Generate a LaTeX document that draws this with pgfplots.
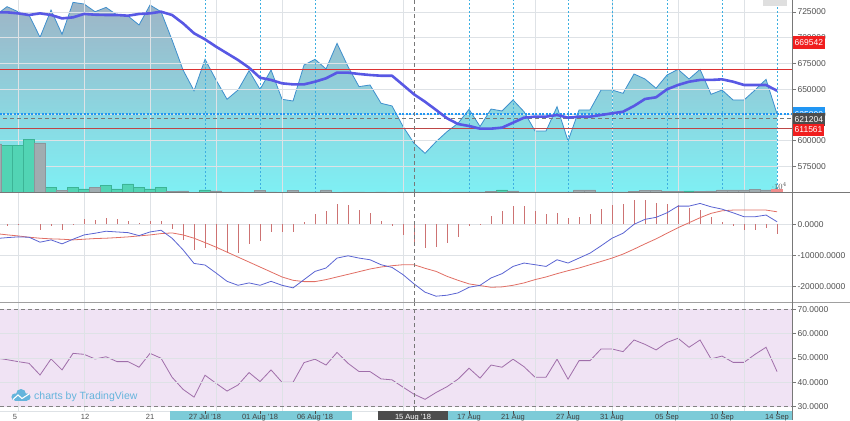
\documentclass[border=0pt]{standalone}
\usepackage{fontspec}
\setmainfont{Liberation Sans}
\usepackage{pgfplots}
\usepackage{pgfplotstable}
\pgfplotsset{compat=1.18}

\definecolor{areatop}{RGB}{158,180,198}
\definecolor{areabot}{RGB}{126,240,244}
\definecolor{priceln}{RGB}{62,143,205}
\definecolor{mac}{RGB}{88,88,228}
\definecolor{gridc}{RGB}{222,226,230}
\definecolor{tickc}{RGB}{80,80,80}
\definecolor{axisc}{RGB}{120,120,120}
\definecolor{bluedot}{RGB}{60,175,225}
\definecolor{lastc}{RGB}{33,150,243}
\definecolor{redl}{RGB}{220,50,50}
\definecolor{redd}{RGB}{190,70,70}
\definecolor{crossc}{RGB}{120,120,120}
\definecolor{volup}{RGB}{82,212,180}
\definecolor{volupd}{RGB}{60,180,150}
\definecolor{voldn}{RGB}{160,172,176}
\definecolor{voldnd}{RGB}{140,150,155}
\definecolor{volred}{RGB}{240,140,140}
\definecolor{macdc}{RGB}{90,100,210}
\definecolor{sigc}{RGB}{225,110,100}
\definecolor{histc}{RGB}{205,115,115}
\definecolor{bandc}{RGB}{240,227,244}
\definecolor{rsic}{RGB}{160,110,170}
\definecolor{dashc}{RGB}{130,130,130}
\definecolor{boxred}{RGB}{240,30,30}
\definecolor{boxdark}{RGB}{77,77,77}
\definecolor{stripc}{RGB}{125,203,216}
\definecolor{tvc}{RGB}{100,180,220}

% close and 20-period average
\pgfplotstableread{
i close ma
-1 722100 724700
0 730200 724700
1 725300 723700
2 722100 722100
3 700400 723700
4 726900 722100
5 703300 718800
6 734400 719800
7 732800 723100
8 725300 722400
9 729500 722100
10 722100 722100
11 721100 721400
12 712400 723100
13 731800 723700
14 725300 725300
15 697800 722100
16 668600 714000
17 648400 704300
18 679000 698400
19 658900 691300
20 640100 684800
21 649100 678300
22 667900 670800
23 649700 661100
24 668600 658900
25 640100 655600
26 638400 654600
27 673400 654600
28 679000 657200
29 669600 660500
30 694500 666000
31 671800 666000
32 652400 664700
33 654000 663700
34 636200 663000
35 633600 663000
36 613600 654000
37 597300 644900
38 587500 637700
39 598800 629700
40 608600 621600
41 616700 616000
42 630300 614100
43 613600 611500
44 630600 611500
45 628700 612500
46 639400 617300
47 628000 622200
48 609200 623200
49 609200 623200
50 632900 624800
51 599500 622200
52 629700 623200
53 629700 623200
54 649100 624800
55 649100 626400
56 645900 628000
57 664700 633600
58 659800 640400
59 650800 642000
60 663700 649800
61 669200 654000
62 659800 657200
63 669200 658900
64 644900 658900
65 649100 659500
66 639400 657200
67 639400 654000
68 649100 654000
69 659500 654000
70 625800 648400
}\pricedata

\pgfplotstableread{
i vol
0 473
1 473
2 533
4 56
6 56
7 40
9 73
10 40
11 90
12 56
13 40
14 56
18 30
45 30
62 20
}\volup

\pgfplotstableread{
i vol
-1 490
3 500
5 23
8 56
15 13
16 20
17 5
19 20
20 10
21 10
22 8
23 25
24 10
25 8
26 25
27 10
28 10
29 30
30 8
31 10
32 12
33 8
34 10
35 8
36 12
37 10
38 8
39 10
40 8
41 10
42 10
43 12
44 15
46 20
47 10
48 12
49 10
50 10
51 12
52 30
53 30
54 12
55 10
56 10
57 15
58 25
59 25
60 15
61 15
63 15
64 20
65 30
66 30
67 30
68 35
69 30
}\voldn

\pgfplotstableread{
i vol
70 35
}\volred

\pgfplotstableread{
i macd signal hist
-1 -4600 -3000 0
0 -4300 -3400 -700
1 -4060 -3750 -200
2 -4170 -4170 0
3 -5770 -4490 -1800
4 -5030 -4700 -700
5 -6310 -4810 -1800
6 -4810 -5030 200
7 -3430 -4810 1600
8 -2880 -4600 1400
9 -2240 -4490 2000
10 -2470 -4290 1700
11 -2690 -4060 1200
12 -3650 -3750 300
13 -2470 -3430 1100
14 -1920 -3000 1100
15 -4490 -2780 -1600
16 -8240 -3430 -5000
17 -12630 -4490 -8200
18 -13140 -5900 -7500
19 -15700 -7370 -8400
20 -18400 -8970 -9300
21 -19680 -10580 -9100
22 -18910 -12180 -6300
23 -19680 -13780 -5300
24 -18400 -15380 -2400
25 -19680 -16990 -2400
26 -20510 -18070 -2400
27 -17850 -18490 600
28 -15190 -18490 3300
29 -14100 -17850 4300
30 -10900 -16990 6400
31 -10160 -16150 6200
32 -10900 -15290 4600
33 -11440 -14420 3500
34 -13040 -13780 1100
35 -13910 -13360 -700
36 -16250 -13040 -3400
37 -19230 -13040 -6100
38 -21900 -14200 -7700
39 -23200 -15190 -7400
40 -22880 -16790 -6100
41 -22130 -18070 -4000
42 -20320 -19230 -400
43 -19680 -19770 -100
44 -17310 -20320 2700
45 -15930 -20190 4400
46 -13590 -19680 6000
47 -12500 -18910 6000
48 -13040 -17850 4400
49 -13590 -16990 3200
50 -11440 -15930 3700
51 -12500 -14970 1900
52 -10900 -14100 2500
53 -9300 -13040 3200
54 -6950 -11990 4900
55 -4490 -10900 6200
56 -2880 -9620 6400
57 0 -8010 7800
58 1600 -6310 7800
59 2240 -4710 7000
60 3720 -2880 6700
61 5870 -1090 6200
62 5870 510 5100
63 6730 2120 4600
64 5640 3530 2500
65 4900 4360 850
66 3720 4590 -700
67 2440 4590 -2000
68 2440 4590 -2000
69 2990 4590 -1300
70 830 4040 -3200
}\macddata

\pgfplotstableread{
i rsi
-1 50.0
0 49.3
1 48.5
2 47.8
3 43.0
4 49.6
5 45.1
6 51.9
7 51.5
8 49.6
9 50.5
10 48.5
11 48.5
12 46.2
13 51.9
14 49.9
15 42.1
16 37.1
17 33.9
18 42.9
19 39.6
20 36.4
21 38.9
22 44.0
23 40.3
24 45.1
25 40.0
26 40.0
27 48.1
28 49.5
29 47.1
30 52.3
31 47.8
32 44.4
33 44.4
34 41.4
35 41.0
36 38.0
37 35.1
38 33.0
39 35.8
40 38.2
41 41.3
42 45.8
43 41.7
44 47.1
45 46.2
46 49.5
47 46.4
48 42.1
49 42.1
50 49.5
51 41.3
52 48.9
53 48.9
54 53.7
55 53.7
56 52.6
57 57.4
58 55.6
59 53.3
60 56.4
61 58.1
62 54.4
63 57.4
64 49.6
65 50.8
66 48.2
67 48.2
68 51.5
69 54.4
70 44.4
}\rsidata

\pgfplotsset{
  panel/.style={
    scale only axis, width=792pt, anchor=south west,
    xmin=-0.64, xmax=71.36,
    axis line style={draw=none},
    xtick={1,7,13,19,25,36,48,55,61,67}, xticklabels={},
    x tick style={draw=none},
    xmajorgrids, ymajorgrids,
    major grid style={draw=gridc, line width=0.6pt},
    ytick pos=right, yticklabel pos=right,
    tick align=outside, major tick length=4pt,
    y tick style={draw=axisc, line width=0.6pt},
    yticklabel style={font=\fontsize{8.5}{10}\selectfont, text=tickc, xshift=-2pt},
  },
  overlay/.style={
    scale only axis, width=792pt, anchor=south west,
    xmin=-0.64, xmax=71.36, hide axis,
  },
}

\begin{document}
\begin{tikzpicture}
\path[use as bounding box] (0,0) rectangle (850pt,420pt);
\clip (0,0) rectangle (850pt,420pt);

% ---- price panel
\begin{axis}[panel, at={(0pt,227pt)}, height=193pt,
  ymin=548900, ymax=736700,
  ytick={575000,600000,625000,650000,675000,700000,725000},
  yticklabels={575000,600000,625000,650000,675000,700000,725000},
  extra x ticks={18,23,28,42,46,51,55,60,65,70}, extra x tick labels={},
  extra x tick style={major tick length=0pt, xmajorgrids=true,
    major grid style={draw=bluedot, dash pattern=on 2pt off 2pt, line width=0.9pt}},
  axis on top]
\addplot[draw=none, top color=areatop, bottom color=areabot]
  table[x=i, y=close] {\pricedata} -- (axis cs:70,548900) -- (axis cs:-1,548900) -- cycle;
\addplot[priceln, line width=0.8pt] table[x=i, y=close] {\pricedata};
\end{axis}

% ---- volume
\begin{axis}[overlay, at={(0pt,227pt)}, height=193pt, ymin=0, ymax=1930,
  ybar, bar width=1, bar shift=0pt]
\addplot[fill=volup, draw=volupd, line width=0.5pt] table[x=i, y=vol] {\volup};
\addplot[fill=voldn, draw=voldnd, line width=0.5pt] table[x=i, y=vol] {\voldn};
\addplot[fill=volred, draw=volred, line width=0.5pt] table[x=i, y=vol] {\volred};
\end{axis}

% ---- price overlay lines
\begin{axis}[overlay, at={(0pt,227pt)}, height=193pt, ymin=548900, ymax=736700]
\addplot[redl, line width=0.7pt] coordinates {(-1,669542) (72,669542)};
\addplot[redd, line width=0.7pt] coordinates {(-1,611561) (72,611561)};
\addplot[crossc, dash pattern=on 4pt off 3pt, line width=0.7pt] coordinates {(-1,621204) (72,621204)};
\addplot[lastc, dash pattern=on 2pt off 1.5pt, line width=1.3pt] coordinates {(-1,625800) (72,625800)};
\addplot[crossc, dash pattern=on 4pt off 3pt, line width=0.7pt] coordinates {(37,548900) (37,736700)};
\addplot[mac, line width=2.6pt, line join=round] table[x=i, y=ma] {\pricedata};
\end{axis}

% ---- MACD panel
\begin{axis}[panel, at={(0pt,118pt)}, height=109pt,
  ymin=-25070, ymax=10100,
  ytick={-20000,-10000,0},
  yticklabels={-20000.0000,-10000.0000,0.0000}]
\addplot[ycomb, histc, line width=0.9pt] table[x=i, y=hist] {\macddata};
\addplot[sigc, line width=0.8pt] table[x=i, y=signal] {\macddata};
\addplot[macdc, line width=0.8pt] table[x=i, y=macd] {\macddata};
\addplot[crossc, dash pattern=on 4pt off 3pt, line width=0.7pt] coordinates {(37,-25070) (37,10100)};
\end{axis}

% ---- RSI panel
\begin{axis}[panel, at={(0pt,9pt)}, height=108pt,
  ymin=28.2, ymax=72.6,
  ytick={40,50,60}, yticklabels={40.0000,50.0000,60.0000},
  extra y ticks={30,70}, extra y tick labels={30.0000,70.0000},
  extra y tick style={ymajorgrids=true,
    major grid style={draw=dashc, dash pattern=on 4pt off 3pt, line width=0.7pt}},
  axis on top]
\addplot[fill=bandc, draw=none] coordinates {(-1,30) (72,30) (72,70) (-1,70)} -- cycle;
\addplot[rsic, line width=0.8pt] table[x=i, y=rsi] {\rsidata};
\addplot[crossc, dash pattern=on 4pt off 3pt, line width=0.7pt] coordinates {(37,28.2) (37,72.6)};
\end{axis}

% ---- frame, separators
\draw[axisc, line width=1pt] (0,227pt) -- (850pt,227pt);
\draw[axisc!70, line width=1pt] (0,117.5pt) -- (850pt,117.5pt);
\draw[gridc, line width=0.6pt] (0,9pt) -- (792pt,9pt);
\draw[axisc, line width=0.8pt] (792pt,0) -- (792pt,420pt);

% ---- price scale labels
\fill[gray!25] (763pt,414pt) rectangle (787pt,420pt);
\node[fill=boxred, text=white, anchor=west, inner xsep=1.5pt, minimum height=11.5pt,
  font=\fontsize{8.5}{10}\selectfont] at (793pt,377.5pt) {669542};
\node[fill=lastc, text=white, anchor=west, inner xsep=1.5pt, minimum height=14pt,
  font=\fontsize{8.5}{10}\selectfont] at (793pt,305.5pt) {625800};
\node[fill=boxdark, text=white, anchor=west, inner xsep=1.5pt, minimum height=9.5pt,
  font=\fontsize{8.5}{10}\selectfont] at (793pt,300.5pt) {621204};
\node[fill=boxred, text=white, anchor=west, inner xsep=1.5pt, minimum height=10pt,
  font=\fontsize{8.5}{10}\selectfont] at (793pt,290pt) {611561};

% ---- watermark
\fill[tvc] (21pt,26pt) circle (5pt);
\fill[tvc] (15pt,23pt) circle (3.6pt);
\fill[tvc] (27pt,23pt) circle (3.6pt);
\fill[tvc] (15pt,19.4pt) rectangle (27pt,23pt);
\draw[white, line width=1.1pt] (13pt,20.5pt) -- (18pt,25pt) -- (22pt,21.5pt) -- (29pt,26pt);
\node[anchor=west, text=tvc, inner sep=0pt, font=\fontsize{10.5}{12}\selectfont] at (34pt,23.5pt) {charts by TradingView};

% ---- time strip
\fill[stripc] (170pt,0) rectangle (352pt,9pt);
\fill[boxdark] (378pt,0) rectangle (448pt,9pt);
\fill[stripc] (448pt,0) rectangle (792pt,9pt);
\foreach \x in {205,260,315,413,469,513,568,612,667,722,777}
  \draw[black!70, line width=0.6pt] (\x pt,9pt) -- (\x pt,6.5pt);
\begin{scope}[every node/.style={anchor=north, inner sep=0pt, font=\fontsize{7.5}{9}\selectfont}]
\node[text=tickc] at (15pt,6pt) {5};
\node[text=tickc] at (85pt,6pt) {12};
\node[text=tickc] at (150pt,6pt) {21};
\node[text=black!75] at (205pt,6pt) {27 Jul '18};
\node[text=black!75] at (260pt,6pt) {01 Aug '18};
\node[text=black!75] at (315pt,6pt) {06 Aug '18};
\node[text=white] at (413pt,6pt) {15 Aug '18};
\node[text=black!75] at (469pt,6pt) {17 Aug};
\node[text=black!75] at (513pt,6pt) {21 Aug};
\node[text=black!75] at (568pt,6pt) {27 Aug};
\node[text=black!75] at (612pt,6pt) {31 Aug};
\node[text=black!75] at (667pt,6pt) {05 Sep};
\node[text=black!75] at (722pt,6pt) {10 Sep};
\node[text=black!75] at (777pt,6pt) {14 Sep};
\end{scope}
\end{tikzpicture}
\end{document}
